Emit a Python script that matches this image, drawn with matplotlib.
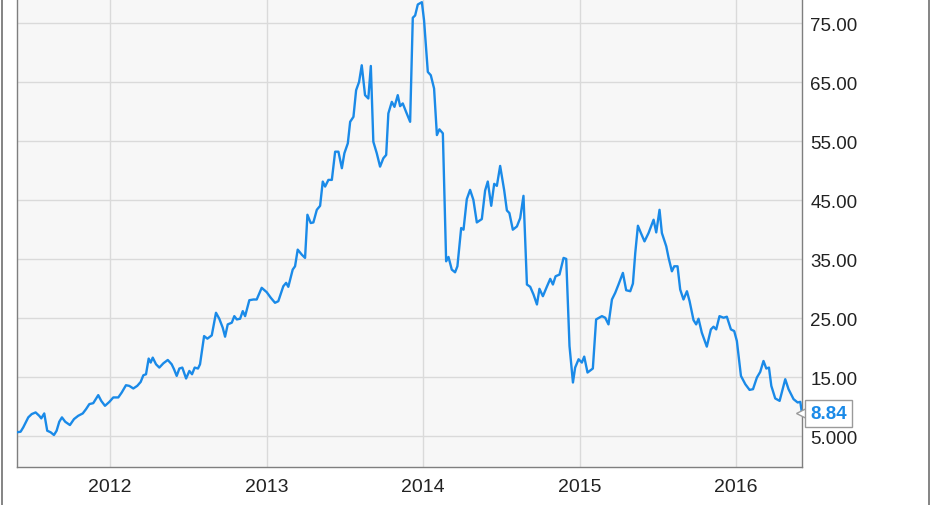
import numpy as np
import matplotlib.pyplot as plt
from matplotlib.lines import Line2D

plt.rcParams["font.family"] = ["Liberation Sans", "DejaVu Sans"]

# Kurs (USD), Zeit als Dezimaljahr
zeit = np.array([
    2011.404, 2011.429, 2011.446, 2011.478, 2011.500, 2011.525, 2011.548, 2011.561, 2011.580, 2011.599,
    2011.621, 2011.642, 2011.659, 2011.676, 2011.693, 2011.714, 2011.744, 2011.770, 2011.797, 2011.826,
    2011.847, 2011.868, 2011.893, 2011.925, 2011.944, 2011.968, 2011.996, 2012.021, 2012.053, 2012.075,
    2012.102, 2012.123, 2012.149, 2012.174, 2012.196, 2012.213, 2012.230, 2012.247, 2012.260, 2012.273,
    2012.294, 2012.315, 2012.341, 2012.369, 2012.394, 2012.409, 2012.426, 2012.443, 2012.462, 2012.486,
    2012.507, 2012.524, 2012.541, 2012.562, 2012.575, 2012.601, 2012.622, 2012.650, 2012.677, 2012.698,
    2012.720, 2012.735, 2012.752, 2012.778, 2012.794, 2012.810, 2012.831, 2012.848, 2012.863, 2012.890,
    2012.916, 2012.937, 2012.969, 2013.001, 2013.027, 2013.054, 2013.075, 2013.107, 2013.125, 2013.139,
    2013.167, 2013.182, 2013.199, 2013.225, 2013.246, 2013.261, 2013.282, 2013.299, 2013.321, 2013.342,
    2013.359, 2013.374, 2013.395, 2013.417, 2013.438, 2013.459, 2013.481, 2013.497, 2013.519, 2013.534,
    2013.555, 2013.572, 2013.591, 2013.608, 2013.629, 2013.650, 2013.666, 2013.682, 2013.704, 2013.725,
    2013.746, 2013.764, 2013.778, 2013.800, 2013.817, 2013.838, 2013.853, 2013.870, 2013.891, 2013.917,
    2013.934, 2013.949, 2013.966, 2013.992, 2014.006, 2014.030, 2014.049, 2014.070, 2014.088, 2014.104,
    2014.126, 2014.147, 2014.162, 2014.183, 2014.204, 2014.219, 2014.243, 2014.258, 2014.279, 2014.300,
    2014.321, 2014.343, 2014.375, 2014.396, 2014.413, 2014.435, 2014.454, 2014.471, 2014.492, 2014.518,
    2014.535, 2014.551, 2014.573, 2014.599, 2014.620, 2014.641, 2014.663, 2014.684, 2014.705, 2014.727,
    2014.743, 2014.765, 2014.790, 2014.812, 2014.829, 2014.846, 2014.871, 2014.897, 2014.914, 2014.935,
    2014.957, 2014.971, 2014.993, 2015.014, 2015.029, 2015.050, 2015.084, 2015.105, 2015.142, 2015.163,
    2015.184, 2015.206, 2015.227, 2015.248, 2015.276, 2015.297, 2015.323, 2015.340, 2015.355, 2015.372,
    2015.391, 2015.414, 2015.440, 2015.472, 2015.489, 2015.510, 2015.525, 2015.553, 2015.568, 2015.589,
    2015.604, 2015.625, 2015.642, 2015.663, 2015.685, 2015.702, 2015.727, 2015.744, 2015.759, 2015.780,
    2015.812, 2015.838, 2015.855, 2015.872, 2015.893, 2015.919, 2015.940, 2015.966, 2015.987, 2016.004,
    2016.030, 2016.058, 2016.085, 2016.107, 2016.132, 2016.153, 2016.174, 2016.192, 2016.209, 2016.224,
    2016.249, 2016.277, 2016.313, 2016.334, 2016.366, 2016.392, 2016.409, 2016.420])

kurs = np.array([
    5.63, 5.73, 6.47, 8.16, 8.72, 9.00, 8.43, 7.99, 8.83, 5.90,
    5.63, 5.17, 5.90, 7.42, 8.16, 7.42, 6.86, 7.87, 8.43, 8.83,
    9.56, 10.41, 10.57, 11.93, 10.96, 10.12, 10.79, 11.54, 11.54, 12.38,
    13.61, 13.50, 13.06, 13.50, 14.17, 15.30, 15.47, 18.13, 17.45, 18.29,
    17.16, 16.60, 17.33, 17.89, 17.16, 16.32, 15.19, 16.44, 16.60, 14.75,
    16.03, 15.47, 16.60, 16.44, 17.16, 21.94, 21.50, 22.06, 25.89, 24.88,
    23.36, 21.84, 23.92, 24.21, 25.32, 24.76, 24.88, 26.17, 25.32, 28.02,
    28.14, 28.14, 30.12, 29.38, 28.43, 27.58, 27.85, 30.39, 30.96, 30.29,
    33.21, 33.77, 36.59, 35.74, 35.19, 42.50, 41.10, 41.20, 43.34, 44.02,
    48.13, 47.28, 48.41, 48.41, 53.19, 53.19, 50.39, 52.92, 54.61, 58.26,
    59.10, 63.61, 65.02, 67.84, 62.77, 62.21, 67.72, 54.88, 52.92, 50.66,
    52.08, 52.64, 59.68, 61.64, 60.79, 62.77, 60.91, 61.37, 59.95, 58.26,
    75.89, 76.28, 78.14, 78.53, 75.44, 66.71, 66.15, 63.90, 56.01, 56.98,
    56.30, 34.61, 35.35, 33.21, 32.75, 33.77, 40.25, 39.97, 45.15, 46.72,
    45.03, 41.20, 41.77, 46.61, 48.13, 44.02, 47.74, 47.40, 50.78, 46.61,
    43.23, 42.79, 39.97, 40.52, 41.94, 45.71, 30.68, 30.29, 28.99, 27.30,
    29.95, 28.70, 30.29, 31.64, 30.68, 32.08, 32.36, 35.19, 35.02, 20.25,
    14.07, 16.60, 18.01, 17.45, 18.46, 15.76, 16.44, 24.76, 25.32, 25.05,
    23.92, 28.14, 29.27, 30.68, 32.65, 29.71, 29.54, 30.84, 36.03, 40.64,
    39.41, 37.99, 39.41, 41.66, 39.51, 43.34, 39.41, 37.15, 35.19, 32.92,
    33.77, 33.77, 29.83, 28.14, 29.54, 27.85, 24.65, 23.92, 24.88, 22.52,
    20.15, 23.07, 23.53, 23.07, 25.32, 25.05, 25.22, 23.07, 22.79, 21.10,
    15.19, 13.78, 12.82, 12.94, 14.92, 15.86, 17.72, 16.44, 16.60, 13.50,
    11.37, 10.96, 14.63, 12.94, 11.25, 10.69, 10.79, 8.84])

jahre = [2012, 2013, 2014, 2015, 2016]
y_ticks = [5, 15, 25, 35, 45, 55, 65, 75]
y_labels = ["5.000", "15.00", "25.00", "35.00", "45.00", "55.00", "65.00", "75.00"]
letzter = "8.84"

blau = "#1a8ae8"
textfarbe = "#222222"

fig = plt.figure(figsize=(9.31, 5.06), dpi=100)
ax = fig.add_axes([17 / 931, 1 - 468 / 506, 785 / 931, 468 / 506])
ax.set_facecolor("#f7f7f7")

ax.plot(zeit, kurs, color=blau, linewidth=1.7, zorder=3, solid_joinstyle="round")

ax.set_xlim(2011.406, 2016.42)
ax.set_ylim(-0.25, 79.07)

ax.set_xticks(jahre)
ax.set_xticklabels([str(j) for j in jahre])
ax.set_yticks(y_ticks)
ax.set_yticklabels(y_labels)
ax.yaxis.tick_right()

ax.tick_params(axis="x", length=0, pad=8, labelsize=14, labelcolor=textfarbe)
ax.tick_params(axis="y", length=0, pad=6, labelsize=13.5, labelcolor=textfarbe)

ax.grid(True, color="#dadada", linewidth=1.0)
ax.set_axisbelow(True)

for s in ["left", "bottom", "right"]:
    ax.spines[s].set_color("#7f7f7f")
    ax.spines[s].set_linewidth(1.0)
ax.spines["top"].set_visible(False)

# Label fuer den letzten Kurs
ax.plot([zeit[-1]], [kurs[-1]], marker="<", markersize=9, markerfacecolor="white",
        markeredgecolor="#9a9a9a", markeredgewidth=1.0, clip_on=False, zorder=4)
ax.annotate(letzter, xy=(zeit[-1], kurs[-1]), xytext=(6, 0), textcoords="offset points",
            ha="left", va="center", color=blau, fontsize=13.5, fontweight="bold",
            annotation_clip=False, zorder=5,
            bbox=dict(boxstyle="square,pad=0.28", facecolor="white", edgecolor="#9a9a9a", linewidth=1.0))

# Rahmenlinien links und rechts
fig.add_artist(Line2D([1.5 / 931, 1.5 / 931], [0, 1], color="#6f6f6f", linewidth=1.2))
fig.add_artist(Line2D([928.5 / 931, 928.5 / 931], [0, 1], color="#6f6f6f", linewidth=1.2))

plt.savefig("out.png", dpi=100)
